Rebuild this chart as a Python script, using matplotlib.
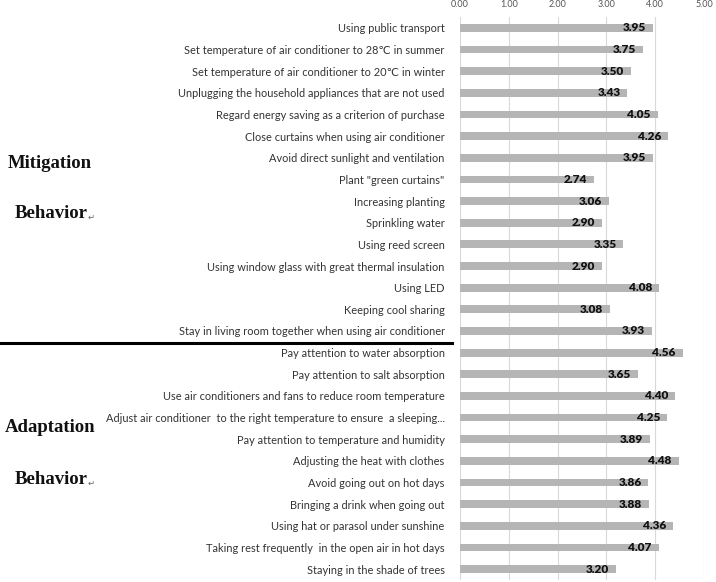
import matplotlib
matplotlib.use("Agg")
import matplotlib.pyplot as plt

categories = [
    "Using public transport",
    "Set temperature of air conditioner to 28\u2103 in summer",
    "Set temperature of air conditioner to 20\u2103 in winter",
    "Unplugging the household appliances that are not used",
    "Regard energy saving as a criterion of purchase",
    "Close curtains when using air conditioner",
    "Avoid direct sunlight and ventilation",
    "Plant \"green curtains\"",
    "Increasing planting",
    "Sprinkling water",
    "Using reed screen",
    "Using window glass with great thermal insulation",
    "Using LED",
    "Keeping cool sharing",
    "Stay in living room together when using air conditioner",
    "Pay attention to water absorption",
    "Pay attention to salt absorption",
    "Use air conditioners and fans to reduce room temperature",
    "Adjust air conditioner  to the right temperature to ensure  a sleeping...",
    "Pay attention to temperature and humidity",
    "Adjusting the heat with clothes",
    "Avoid going out on hot days",
    "Bringing a drink when going out",
    "Using hat or parasol under sunshine",
    "Taking rest frequently  in the open air in hot days",
    "Staying in the shade of trees",
]
values = [3.95, 3.75, 3.50, 3.43, 4.05, 4.26, 3.95, 2.74, 3.06, 2.90, 3.35, 2.90,
          4.08, 3.08, 3.93, 4.56, 3.65, 4.40, 4.25, 3.89, 4.48, 3.86, 3.88, 4.36,
          4.07, 3.20]
xticks = [0, 1, 2, 3, 4, 5]
groups = ["Mitigation", "Adaptation"]

W, H = 716, 582
fig = plt.figure(figsize=(W / 100, H / 100), dpi=100)
ax = fig.add_axes([460 / W, 2 / H, (704 - 460) / W, (582 - 17 - 2) / H])

sans = ["Lato", "DejaVu Sans"]
n = len(categories)
ys = list(range(n))
ax.barh(ys, values, height=0.36, color="#b5b5b5", zorder=2)
ax.set_ylim(n - 0.5, -0.5)
ax.set_xlim(0, 5)
ax.set_xticks(xticks)
ax.set_xticklabels([f"{t:.2f}" for t in xticks], fontsize=6.5, color="#555555",
                   family=sans)
ax.xaxis.tick_top()
ax.tick_params(axis="x", length=0, pad=6)
ax.set_yticks(ys)
ax.set_yticklabels(categories, fontsize=7.9, color="#333333", family=sans)
ax.tick_params(axis="y", length=0, pad=11)
ax.grid(axis="x", color="#d9d9d9", linewidth=0.8, zorder=0)
for s in ax.spines.values():
    s.set_visible(False)

for y, v in zip(ys, values):
    ax.text(v - 0.14, y, f"{v:.2f}", ha="right", va="center", fontsize=8.5,
            fontweight="heavy", color="#111111", family=sans, zorder=3)

# separator line
fig.add_artist(plt.Line2D([0, 452 / W], [1 - 343 / H, 1 - 343 / H],
                          color="black", linewidth=2.2))

serif = dict(family="Liberation Serif", fontweight="bold", color="#111111")
fig.text(8 / W, 1 - 163 / H, groups[0], fontsize=13.5, va="center", ha="left", **serif)
fig.text(15 / W, 1 - 214 / H, "Behavior", fontsize=13.5, va="center", ha="left", **serif)
fig.text(88 / W, 1 - 217 / H, "\u21b5", fontsize=6, va="center", ha="left", color="#666666")
fig.text(5 / W, 1 - 427 / H, groups[1], fontsize=13.5, va="center", ha="left", **serif)
fig.text(15 / W, 1 - 480 / H, "Behavior", fontsize=13.5, va="center", ha="left", **serif)
fig.text(88 / W, 1 - 483 / H, "\u21b5", fontsize=6, va="center", ha="left", color="#666666")

fig.savefig("out.png", dpi=100)
